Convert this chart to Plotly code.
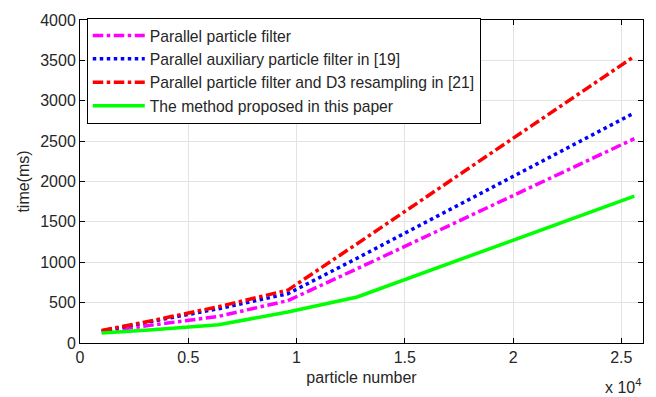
import plotly.graph_objects as go

particles = [1000, 3200, 6400, 9600, 12800, 25600]
parallel_pf = [140, 220, 330, 525, 920, 2530]
parallel_apf = [150, 260, 425, 610, 1050, 2850]
parallel_pf_d3 = [155, 270, 450, 655, 1230, 3550]
proposed = [125, 160, 225, 385, 570, 1820]

names = [
    "Parallel particle filter",
    "Parallel auxiliary particle filter in [19]",
    "Parallel particle filter and D3 resampling in [21]",
    "The method proposed in this paper",
]
series = [parallel_pf, parallel_apf, parallel_pf_d3, proposed]
colors = ["#ff00ff", "#0000ff", "#ff0000", "#00ff00"]
dashes = ["dashdot", "dot", "dashdot", "solid"]

x_tickvals = [0, 5000, 10000, 15000, 20000, 25000]
x_ticktext = ["0", "0.5", "1", "1.5", "2", "2.5"]
y_tickvals = [0, 500, 1000, 1500, 2000, 2500, 3000, 3500, 4000]

fig = go.Figure()
for n, s, c, d in zip(names, series, colors, dashes):
    fig.add_trace(go.Scatter(x=particles, y=s, mode="lines", name=n,
                             line=dict(color=c, width=3.5, dash=d)))

font = dict(family="Liberation Sans, Arial, sans-serif", size=16, color="#262626")
legend_font = dict(family="Liberation Sans, Arial, sans-serif", size=15.7, color="#262626")
axis_common = dict(showline=True, linecolor="black", linewidth=1, mirror="ticks",
                   ticks="inside", ticklen=5, tickcolor="black",
                   showgrid=True, gridcolor="#e3e3e3", gridwidth=1,
                   zeroline=False, tickfont=font)
fig.update_layout(
    width=656, height=397,
    margin=dict(l=80, r=12, t=15, b=54),
    plot_bgcolor="white", paper_bgcolor="white",
    font=font,
    xaxis=dict(range=[0, 26000], tickvals=x_tickvals, ticktext=x_ticktext,
               title=dict(text="particle number", font=font, standoff=6), **axis_common),
    yaxis=dict(range=[0, 4000], tickvals=y_tickvals,
               title=dict(text="time(ms)", font=font, standoff=6), **axis_common),
    legend=dict(x=0.012, y=1.007, xanchor="left", yanchor="top",
                bgcolor="white", bordercolor="black", borderwidth=1,
                font=legend_font, tracegroupgap=0, itemwidth=52),
    showlegend=True,
)
fig.add_annotation(text="x 10<sup>4</sup>", xref="paper", yref="paper",
                   x=1.0, y=-0.095, xanchor="right", yanchor="top",
                   showarrow=False, font=font)
fig.write_html("out.html")
